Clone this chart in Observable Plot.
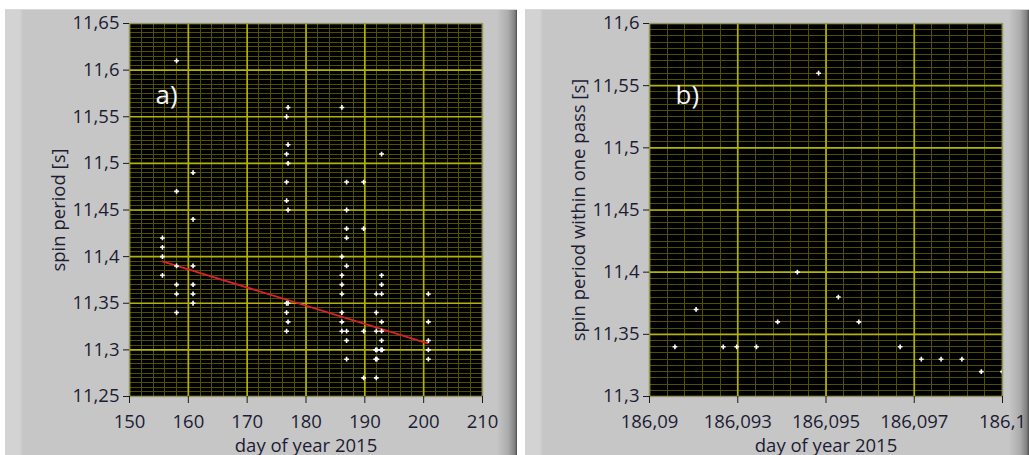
<!DOCTYPE html>
<html>
<head>
<meta charset="utf-8">
<script src="https://cdn.jsdelivr.net/npm/d3@7"></script>
<script src="https://cdn.jsdelivr.net/npm/@observablehq/plot@0.6"></script>
<style>
  html, body { margin: 0; padding: 0; background: #fff; }
  body { width: 1029px; height: 455px; position: relative; overflow: hidden; font-family: "Open Sans", sans-serif; }
  .panel {
    position: absolute; top: 9px; height: 446px;
    background: linear-gradient(to right, #d3d3d3 0, #d3d3d3 15px, #c6c6c6 18px, #c6c6c6 calc(100% - 20px), #acacac calc(100% - 9px), #7e7e7e calc(100% - 2px), #4a4a4a 100%);
    border-top: 1px solid #d8d8d8;
  }
  #panelA { left: 5px; width: 512px; }
  #panelB { left: 525px; width: 504px; }
  .chart { position: absolute; top: 0; }
  .chart svg { display: block; }
</style>
</head>
<body>
<div class="panel" id="panelA"></div>
<div class="panel" id="panelB"></div>
<div class="chart" id="chartA" style="left:0"></div>
<div class="chart" id="chartB" style="left:520px"></div>
<script>
// ---- a) spin period over the season ----
const dayA = [
  155.6, 155.6, 155.6, 155.6,
  158.0, 158.0, 158.0, 158.0, 158.0, 158.0,
  160.8, 160.8, 160.8, 160.8, 160.8, 160.8,
  176.95, 176.95, 176.95, 176.95, 176.95, 176.95,
  176.7, 176.7, 176.7, 176.7, 176.7, 176.7, 176.7,
  186.1, 186.1, 186.1, 186.1, 186.1, 186.1, 186.1, 186.1,
  186.9, 186.9, 186.9, 186.9, 186.9, 186.9, 186.9, 186.9,
  189.8, 189.8, 189.8, 189.8,
  191.95, 191.95, 191.95, 191.85, 192.05, 191.85, 192.05, 191.95,
  192.85, 192.85, 192.85, 192.85, 192.85, 192.85, 192.85, 192.75, 192.95,
  200.8, 200.8, 200.8, 200.8, 200.8
];
const spinA = [
  11.42, 11.41, 11.40, 11.38,
  11.61, 11.47, 11.39, 11.37, 11.36, 11.34,
  11.49, 11.44, 11.39, 11.37, 11.36, 11.35,
  11.56, 11.52, 11.50, 11.45, 11.35, 11.33,
  11.55, 11.51, 11.48, 11.46, 11.35, 11.34, 11.32,
  11.56, 11.40, 11.38, 11.37, 11.36, 11.34, 11.33, 11.32,
  11.48, 11.45, 11.43, 11.42, 11.39, 11.32, 11.31, 11.29,
  11.48, 11.43, 11.32, 11.27,
  11.36, 11.34, 11.32, 11.30, 11.30, 11.29, 11.29, 11.27,
  11.51, 11.38, 11.37, 11.36, 11.33, 11.32, 11.31, 11.30, 11.30,
  11.36, 11.33, 11.31, 11.30, 11.29
];
// linear trend fitted to the season
const fitDay = [155.6, 200.7];
const fitSpin = [11.395, 11.307];

const xTicksA = [150, 160, 170, 180, 190, 200, 210];
const yTicksA = [11.25, 11.3, 11.35, 11.4, 11.45, 11.5, 11.55, 11.6, 11.65];
const yLabelsA = ["11,25", "11,3", "11,35", "11,4", "11,45", "11,5", "11,55", "11,6", "11,65"];
const xMinorStepA = 2;
const yMinorStepA = 0.005;

// ---- b) spin period within a single pass ----
const dayB = [
  186.09072, 186.09132, 186.09209, 186.09247, 186.09303, 186.09363, 186.09419, 186.09479,
  186.09535, 186.09593, 186.0971, 186.0977, 186.09826, 186.09885, 186.0994, 186.1
];
const spinB = [
  11.34, 11.37, 11.34, 11.34, 11.34, 11.36, 11.40, 11.56,
  11.38, 11.36, 11.34, 11.33, 11.33, 11.33, 11.32, 11.32
];
const xTicksB = [186.09, 186.0925, 186.095, 186.0975, 186.1];
const xLabelsB = ["186,09", "186,093", "186,095", "186,097", "186,1"];
const yTicksB = [11.3, 11.35, 11.4, 11.45, 11.5, 11.55, 11.6];
const yLabelsB = ["11,3", "11,35", "11,4", "11,45", "11,5", "11,55", "11,6"];
const xMinorStepB = 0.0005;
const yMinorStepB = 0.005;

const MAJOR = "#b4b400";
const MINOR = "#505000";
const INK = "#1c1c34";

function steps(lo, hi, step) {
  const n = Math.round((hi - lo) / step);
  return d3.range(n + 1).map(i => lo + i * step);
}
function labelFor(ticks, labels) {
  return d => labels[ticks.findIndex(t => Math.abs(t - d) < 1e-9)];
}

function panel({width, marginRight, xDomain, yDomain, xTicks, xFormat, yTicks, yFormat,
                xMinor, yMinor, xs, ys, yTitle, tag, extra = []}) {
  const pts = xs.map((x, i) => ({x, y: ys[i]}));
  return Plot.plot({
    width, height: 455,
    marginLeft: 129, marginRight, marginTop: 23, marginBottom: 59,
    x: {domain: xDomain},
    y: {domain: yDomain},
    style: {background: "transparent", fontFamily: "'Open Sans', sans-serif", fontSize: "16px", color: INK},
    marks: [
      Plot.frame({fill: "black"}),
      Plot.ruleX(xMinor, {stroke: MINOR, strokeOpacity: 1, shapeRendering: "crispEdges"}),
      Plot.ruleY(yMinor, {stroke: MINOR, strokeOpacity: 1, shapeRendering: "crispEdges"}),
      Plot.ruleX(xTicks, {stroke: MAJOR, strokeOpacity: 1, strokeWidth: 1.7}),
      Plot.ruleY(yTicks, {stroke: MAJOR, strokeOpacity: 1, strokeWidth: 1.7}),
      ...extra,
      Plot.dot(pts, {x: "x", y: "y", symbol: "cross", r: 2, fill: "white", stroke: "none", clip: true}),
      Plot.text([tag], {frameAnchor: "top-left", dx: 26, dy: 62, fill: "#f2f6ff", fontSize: 26}),
      Plot.frame({stroke: "#8e8e8e", shapeRendering: "crispEdges"}),
      Plot.axisX(xTicks, {tickSize: 7, tickPadding: 11, tickFormat: xFormat, stroke: "#1a1a1a",
        label: "day of year 2015", labelAnchor: "center", labelArrow: "none", labelOffset: 55, fontSize: 18.5}),
      Plot.axisY(yTicks, {tickSize: 6, tickPadding: 4, tickFormat: yFormat, stroke: "#1a1a1a",
        label: yTitle, labelAnchor: "center", labelArrow: "none", labelOffset: 78, fontSize: 18.5})
    ]
  });
}

document.getElementById("chartA").append(panel({
  width: 520, marginRight: 38,
  xDomain: [150, 210], yDomain: [11.25, 11.65],
  xTicks: xTicksA, xFormat: d => String(d),
  yTicks: yTicksA, yFormat: labelFor(yTicksA, yLabelsA),
  xMinor: steps(150, 210, xMinorStepA), yMinor: steps(11.25, 11.65, yMinorStepA),
  xs: dayA, ys: spinA, yTitle: "spin period [s]", tag: "a)",
  extra: [Plot.line(fitDay.map((d, i) => ({d, s: fitSpin[i]})), {x: "d", y: "s", stroke: "#dc2228", strokeWidth: 1.8})]
}));

document.getElementById("chartB").append(panel({
  width: 509, marginRight: 27,
  xDomain: [186.09, 186.1], yDomain: [11.3, 11.6],
  xTicks: xTicksB, xFormat: labelFor(xTicksB, xLabelsB),
  yTicks: yTicksB, yFormat: labelFor(yTicksB, yLabelsB),
  xMinor: steps(186.09, 186.1, xMinorStepB), yMinor: steps(11.3, 11.6, yMinorStepB),
  xs: dayB, ys: spinB, yTitle: "spin period within one pass [s]", tag: "b)"
}));
</script>
</body>
</html>
